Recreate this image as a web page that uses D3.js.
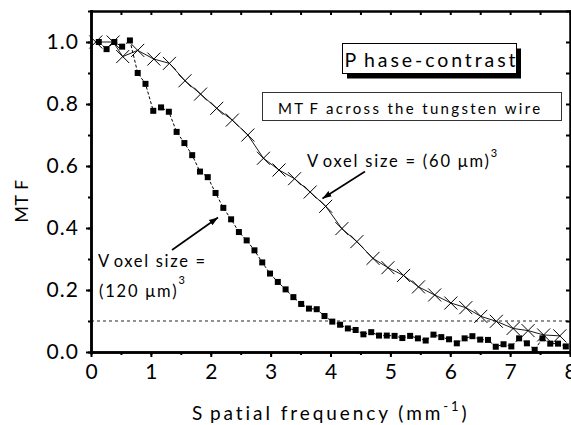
<!DOCTYPE html>
<html><head><meta charset="utf-8">
<script src="https://cdn.jsdelivr.net/npm/d3@7"></script>
<style>
html,body{margin:0;padding:0;background:#fff;}
svg{display:block;}
text{font-family:Lato,"Open Sans",sans-serif;fill:#000;}
</style></head>
<body>
<svg id="c" width="571" height="425"></svg>
<script>
// ---- data ----
const xTicks = [0,1,2,3,4,5,6,7,8];
const yTicks = [0.0,0.2,0.4,0.6,0.8,1.0];
const yTickLabels = ["0.0","0.2","0.4","0.6","0.8","1.0"];
const refLevel = 0.1;

// Voxel size (120 um)^3 : squares
const sqX = [0.13,0.26,0.39,0.52,0.65,0.78,0.91,1.04,1.17,1.30,1.43,1.56,1.69,1.82,1.95,2.08,2.21,2.34,2.47,2.60,2.73,2.86,2.99,3.12,3.25,3.38,3.51,3.64,3.77,3.90,4.03,4.16,4.29,4.42,4.55,4.68,4.81,4.94,5.07,5.20,5.33,5.46,5.59,5.72,5.85,5.98,6.11,6.24,6.37,6.50,6.63,6.76,6.89,7.02,7.15,7.28,7.41,7.54,7.67,7.80,7.93];
const sqY = [1.00,0.977,1.00,0.985,1.005,0.90,0.865,0.778,0.789,0.775,0.71,0.674,0.635,0.582,0.564,0.513,0.465,0.428,0.387,0.36,0.328,0.289,0.253,0.226,0.202,0.177,0.155,0.14,0.138,0.116,0.098,0.088,0.076,0.071,0.057,0.064,0.053,0.053,0.052,0.045,0.052,0.044,0.037,0.056,0.048,0.041,0.028,0.044,0.051,0.040,0.039,0.017,0.025,0.018,0.044,0.028,0.007,0.044,0.027,0.027,0.018];

// Voxel size (60 um)^3 : crosses
const crX = [0.08,0.37,0.53,0.78,1.05,1.31,1.57,1.83,2.10,2.36,2.62,2.88,3.14,3.40,3.66,3.92,4.19,4.44,4.71,4.96,5.22,5.47,5.74,6.01,6.26,6.51,6.77,7.05,7.30,7.56,7.83];
const crY = [1.00,1.00,0.953,0.973,0.945,0.931,0.875,0.832,0.786,0.748,0.70,0.625,0.587,0.559,0.516,0.47,0.398,0.356,0.302,0.272,0.247,0.21,0.184,0.158,0.143,0.115,0.099,0.076,0.069,0.055,0.052];

// ---- chart ----
const svg = d3.select("#c");
const x = d3.scaleLinear().domain([0,8]).range([91,570]);
const y = d3.scaleLinear().domain([0,1.1]).range([352,11]);

svg.append("defs").append("marker")
  .attr("id","arr").attr("viewBox","0 0 10 10").attr("refX",10).attr("refY",5)
  .attr("markerWidth",9).attr("markerHeight",9).attr("markerUnits","userSpaceOnUse")
  .attr("orient","auto")
  .append("path").attr("d","M0,1.5 L10,5 L0,8.5 Z").attr("fill","#000");

// reference dashed line
svg.append("line").attr("x1",x(0)).attr("x2",x(8)).attr("y1",y(refLevel)).attr("y2",y(refLevel))
  .attr("stroke","#222").attr("stroke-width",1).attr("stroke-dasharray","3,3");

// squares series
const sq = sqX.map((v,i)=>[v,sqY[i]]);
svg.append("path").datum(sq)
  .attr("d", d3.line().x(d=>x(d[0])).y(d=>y(d[1])))
  .attr("fill","none").attr("stroke","#000").attr("stroke-width",1).attr("stroke-dasharray","3,2");
svg.append("g").selectAll("rect").data(sq).join("rect")
  .attr("x",d=>x(d[0])-3).attr("y",d=>y(d[1])-3).attr("width",6).attr("height",6).attr("fill","#000");

// crosses series
const cr = crX.map((v,i)=>[v,crY[i]]);
svg.append("path").datum(cr)
  .attr("d", d3.line().x(d=>x(d[0])).y(d=>y(d[1])))
  .attr("fill","none").attr("stroke","#000").attr("stroke-width",0.9);
const s=6.5;
svg.append("g").selectAll("path").data(cr).join("path")
  .attr("d",d=>{const cx=x(d[0]),cy=y(d[1]);return `M${cx-s},${cy-s}L${cx+s},${cy+s}M${cx-s},${cy+s}L${cx+s},${cy-s}`;})
  .attr("stroke","#000").attr("stroke-width",1).attr("fill","none");

// axes
const minorX = d3.range(0,8.01,0.5);
const minorY = d3.range(0,1.101,0.1);
function styleAxis(g){ g.select(".domain").attr("stroke-width",2.5); g.selectAll(".tick line").attr("stroke-width",2); }
svg.append("g").attr("transform",`translate(0,${y(0)})`)
  .call(d3.axisBottom(x).tickValues(minorX).tickSize(3).tickFormat("").tickSizeOuter(0)).call(styleAxis);
const gb2 = svg.append("g").attr("transform",`translate(0,${y(0)})`)
  .call(d3.axisBottom(x).tickValues(xTicks).tickSize(5).tickSizeOuter(0).tickPadding(7).tickFormat(d3.format("d"))).call(styleAxis);
gb2.selectAll("text").attr("font-size",21).attr("font-family","Lato").attr("dy","0.71em");
svg.append("g").attr("transform",`translate(${x(0)},0)`)
  .call(d3.axisLeft(y).tickValues(minorY).tickSize(3).tickFormat("").tickSizeOuter(0)).call(styleAxis);
const gl2 = svg.append("g").attr("transform",`translate(${x(0)},0)`)
  .call(d3.axisLeft(y).tickValues(yTicks).tickSize(5).tickSizeOuter(0).tickPadding(7).tickFormat((d,i)=>yTickLabels[i])).call(styleAxis);
gl2.selectAll("text").attr("font-size",21).attr("font-family","Lato");
svg.append("g").attr("transform",`translate(0,${y(1.1)})`)
  .call(d3.axisTop(x).tickValues(minorX).tickSize(-4).tickFormat("").tickSizeOuter(0)).call(styleAxis);
svg.append("g").attr("transform",`translate(${x(8)},0)`)
  .call(d3.axisRight(y).tickValues(minorY).tickSize(-4).tickFormat("").tickSizeOuter(0)).call(styleAxis);
svg.selectAll(".domain").attr("stroke-linecap","square");

// stretch a text horizontally to a target width via letter-spacing
function fit(sel, target){
  sel.attr("letter-spacing",0);
  const n = sel.node().textContent.length;
  const w = sel.node().getBBox().width;
  sel.attr("letter-spacing", ((target - w)/Math.max(n-1,1)).toFixed(2));
}
gl2.selectAll("text").each(function(){ fit(d3.select(this), 31.5); });

// axis titles
const yt = svg.append("text").attr("transform",`translate(28,201) rotate(-90)`)
  .attr("text-anchor","middle").attr("font-size",18);
yt.append("tspan").text("MT");
yt.append("tspan").attr("dx",4).text("F");
fit(yt, 43);

const xt = svg.append("text").attr("x",192).attr("y",420).attr("font-size",19);
xt.append("tspan").text("S");
xt.append("tspan").attr("dx",5).text("patial frequency (mm");
xt.append("tspan").attr("dy",-9).attr("font-size",13).text("-1");
xt.append("tspan").attr("dy",9).text(")");
fit(xt, 275);

// Phase-contrast box
svg.append("rect").attr("x",347).attr("y",48.5).attr("width",174).attr("height",30).attr("fill","#000");
svg.append("rect").attr("x",342.5).attr("y",43.5).attr("width",174).attr("height",30).attr("fill","#fff").attr("stroke","#000").attr("stroke-width",1);
const pc = svg.append("text").attr("x",344.5).attr("y",66.5).attr("font-size",19.5);
pc.append("tspan").text("P");
pc.append("tspan").attr("dx",5).text("hase-contrast");
fit(pc, 171);

// MTF box
svg.append("rect").attr("x",262.5).attr("y",92.5).attr("width",299).attr("height",28).attr("fill","#fff").attr("stroke","#333").attr("stroke-width",1);
const mt = svg.append("text").attr("x",278).attr("y",114).attr("font-size",15);
mt.append("tspan").text("MT");
mt.append("tspan").attr("dx",4).text("F across the tungsten wire");
fit(mt, 262);

// annotations
const a1 = svg.append("text").attr("x",307).attr("y",167).attr("font-size",16.5);
a1.append("tspan").text("V");
a1.append("tspan").attr("dx",4).text("oxel size = (60 μm)");
a1.append("tspan").attr("dy",-10).attr("font-size",11).text("3");
fit(a1, 190);
svg.append("line").attr("x1",365).attr("y1",171.5).attr("x2",322.5).attr("y2",198.5)
  .attr("stroke","#000").attr("stroke-width",1.6).attr("marker-end","url(#arr)");

const a2 = svg.append("text").attr("x",98).attr("y",266.5).attr("font-size",16.5);
a2.append("tspan").text("V");
a2.append("tspan").attr("dx",4).text("oxel size =");
fit(a2, 107);
const a3 = svg.append("text").attr("x",99).attr("y",296.5).attr("font-size",16.5);
a3.append("tspan").text("(120 μm)");
a3.append("tspan").attr("dy",-13).attr("font-size",11).text("3");
fit(a3, 86);
svg.append("line").attr("x1",172).attr("y1",250).attr("x2",218).attr("y2",217.5)
  .attr("stroke","#000").attr("stroke-width",1.6).attr("marker-end","url(#arr)");
</script>
</body></html>
